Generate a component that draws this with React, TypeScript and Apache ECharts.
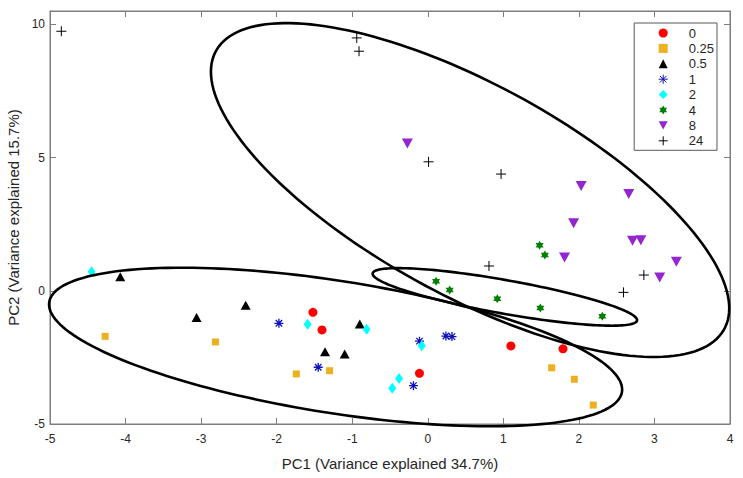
import React, { useEffect, useRef } from 'react';
import * as echarts from 'echarts';

// Group labels (legend)
const groupNames = ['0', '0.25', '0.5', '1', '2', '4', '8', '24'];

// PC1 / PC2 scores per group
const pts0 = [[-1.52, -0.81], [-1.40, -1.47], [-0.11, -3.10], [1.10, -2.07], [1.79, -2.18]];
const pts025 = [[-4.27, -1.71], [-2.81, -1.92], [-1.74, -3.12], [-1.30, -3.00], [1.64, -2.89], [1.94, -3.32], [2.19, -4.29]];
const pts05 = [[-4.07, 0.53], [-3.06, -1.00], [-2.41, -0.54], [-0.90, -1.25], [-1.36, -2.29], [-1.10, -2.37]];
const pts1 = [[-1.97, -1.22], [-1.45, -2.87], [-0.11, -1.89], [0.24, -1.70], [0.32, -1.72], [-0.19, -3.56]];
const pts2 = [[-4.45, 0.71], [-1.59, -1.26], [-0.81, -1.44], [-0.08, -2.06], [-0.38, -3.29], [-0.47, -3.66]];
const pts4 = [[1.48, 1.71], [1.55, 1.34], [0.11, 0.36], [0.29, 0.03], [0.92, -0.30], [1.49, -0.65], [2.31, -0.96]];
const pts8 = [[-0.27, 5.53], [2.03, 3.93], [2.66, 3.63], [1.93, 2.53], [2.71, 1.88], [2.82, 1.90], [1.81, 1.25], [3.29, 1.09], [3.07, 0.50]];
const pts24 = [[-4.85, 9.74], [-0.94, 9.49], [-0.91, 8.99], [0.01, 4.84], [0.97, 4.38], [0.81, 0.93], [2.59, -0.06], [2.86, 0.59]];

// Confidence ellipses: centre and two conjugate semi-axis vectors (data units)
const ellipseCenter = [[-1.22, -2.11], [0.56, 3.78], [1.02, -0.23]];
const ellipseAxisA = [[3.79, -1.69], [3.43, -4.44], [1.75, -0.87]];
const ellipseAxisB = [[-0.14, -2.45], [0.0, -4.42], [0.0, -0.64]];

// Axis ticks
const xTicks = { min: -5, max: 4, step: 1 };
const yTicks = { min: -5, max: 10.5, step: 5 };

const axisColor = '#7d7d7d';
const labelColor = '#262626';
const FONT = '"Liberation Sans", Arial, Helvetica, sans-serif';

const PLUS = 'path://M-1,0H1M0,-1V1';
const ASTERISK = 'path://M-1,0H1M0,-1V1M-0.72,-0.72L0.72,0.72M-0.72,0.72L0.72,-0.72';
const HEXAGRAM = 'path://M0,-1L0.866,0.5L-0.866,0.5ZM0,1L-0.866,-0.5L0.866,-0.5Z';
const DOWN_TRIANGLE = 'path://M0,0L2,0L1,1.8Z';

export default function App() {
  const ref = useRef<HTMLDivElement>(null);

  useEffect(() => {
    if (!ref.current) return;
    const chart = echarts.init(ref.current, undefined, { renderer: 'svg' });

    const scatter = (name: string, data: number[][], symbol: string, size: any, color: string, extra: any = {}) => ({
      type: 'scatter',
      name,
      data,
      symbol,
      symbolSize: size,
      itemStyle: { color, opacity: 1 },
      emphasis: { disabled: true },
      z: 2,
      ...extra,
    });

    const ellipseData = ellipseCenter.map((c, i) => [c[0], c[1], ellipseAxisA[i][0], ellipseAxisA[i][1], ellipseAxisB[i][0], ellipseAxisB[i][1]]);

    const legendItem = (n: string) => {
      if (n === '24' || n === '1') return { name: n, itemStyle: { borderWidth: 1 } };
      if (n === '8') return { name: n, icon: DOWN_TRIANGLE };
      return { name: n };
    };

    const option: any = {
      animation: false,
      backgroundColor: '#ffffff',
      textStyle: { fontFamily: FONT },
      grid: {
        left: 50, right: 13, top: 11, bottom: 54,
        show: true, borderColor: axisColor, borderWidth: 1,
        containLabel: false, outerBoundsMode: 'none',
      },
      legend: {
        orient: 'vertical',
        right: 26,
        top: 23,
        data: groupNames.map(legendItem),
        itemWidth: 9,
        itemHeight: 9,
        itemGap: 2.4,
        padding: [3.5, 3, 3, 24],
        backgroundColor: '#ffffff',
        borderColor: '#5a5a5a',
        borderWidth: 1,
        borderRadius: 0,
        selectedMode: false,
        textStyle: { fontSize: 13, color: labelColor, fontFamily: FONT, lineHeight: 13, padding: [0, 0, 0, 16] },
      },
      xAxis: [
        {
          type: 'value', min: xTicks.min, max: xTicks.max, interval: xTicks.step, position: 'bottom',
          axisLine: { show: true, onZero: false, lineStyle: { color: axisColor, width: 1 } },
          axisTick: { show: true, inside: true, length: 6, lineStyle: { color: axisColor } },
          axisLabel: { color: labelColor, fontSize: 12, margin: 9, fontFamily: FONT },
          splitLine: { show: false },
          name: 'PC1 (Variance explained 34.7%)',
          nameLocation: 'middle', nameGap: 32,
          nameTextStyle: { fontSize: 15, color: labelColor, fontFamily: FONT },
        },
        {
          type: 'value', min: xTicks.min, max: xTicks.max, interval: xTicks.step, position: 'top',
          axisLine: { show: true, onZero: false, lineStyle: { color: axisColor, width: 1 } },
          axisTick: { show: true, inside: true, length: 6, lineStyle: { color: axisColor } },
          axisLabel: { show: false },
          splitLine: { show: false },
        },
      ],
      yAxis: [
        {
          type: 'value', min: yTicks.min, max: yTicks.max, interval: yTicks.step, position: 'left',
          axisLine: { show: true, onZero: false, lineStyle: { color: axisColor, width: 1 } },
          axisTick: { show: true, inside: true, length: 6, lineStyle: { color: axisColor } },
          axisLabel: { color: labelColor, fontSize: 12, margin: 5, showMaxLabel: false, fontFamily: FONT },
          splitLine: { show: false },
          name: 'PC2 (Variance explained 15.7%)',
          nameLocation: 'middle', nameGap: 29,
          nameTextStyle: { fontSize: 15, color: labelColor, fontFamily: FONT },
        },
        {
          type: 'value', min: yTicks.min, max: yTicks.max, interval: yTicks.step, position: 'right',
          axisLine: { show: true, onZero: false, lineStyle: { color: axisColor, width: 1 } },
          axisTick: { show: true, inside: true, length: 6, lineStyle: { color: axisColor } },
          axisLabel: { show: false },
          splitLine: { show: false },
        },
      ],
      series: [
        scatter(groupNames[0], pts0, 'circle', 9, '#ff0000'),
        scatter(groupNames[1], pts025, 'rect', 7, '#edb120'),
        scatter(groupNames[2], pts05, 'triangle', [10, 9], '#000000'),
        scatter(groupNames[3], pts1, ASTERISK, 9, '#1010c0', {
          itemStyle: { color: '#1010c0', borderColor: '#1010c0', borderWidth: 1.3, opacity: 1 },
        }),
        scatter(groupNames[4], pts2, 'diamond', [8, 11], '#00ffff'),
        scatter(groupNames[5], pts4, HEXAGRAM, [8, 9], '#007f00'),
        scatter(groupNames[6], pts8, 'triangle', [11, 10], '#9426d0', { symbolRotate: 180 }),
        scatter(groupNames[7], pts24, PLUS, 10, '#000000', {
          itemStyle: { color: '#000000', borderColor: '#000000', borderWidth: 1, opacity: 1 },
        }),
        {
          type: 'custom',
          data: ellipseData,
          encode: { x: 0, y: 1 },
          clip: false,
          z: 3,
          silent: true,
          renderItem: (params: any, api: any) => {
            const cx = api.value(0), cy = api.value(1);
            const ax = api.value(2), ay = api.value(3);
            const bx = api.value(4), by = api.value(5);
            const points: number[][] = [];
            const N = 180;
            for (let k = 0; k <= N; k++) {
              const t = (2 * Math.PI * k) / N;
              const c = Math.cos(t), s = Math.sin(t);
              points.push(api.coord([cx + ax * c + bx * s, cy + ay * c + by * s]));
            }
            return {
              type: 'polygon',
              shape: { points },
              style: { fill: 'none', stroke: '#000000', lineWidth: 2.6 },
            };
          },
        },
      ],
    };

    chart.setOption(option);
    return () => chart.dispose();
  }, []);

  return (
    <div
      ref={ref}
      style={{ position: 'fixed', left: 0, top: 0, width: 743, height: 478, background: '#fff' }}
    />
  );
}
